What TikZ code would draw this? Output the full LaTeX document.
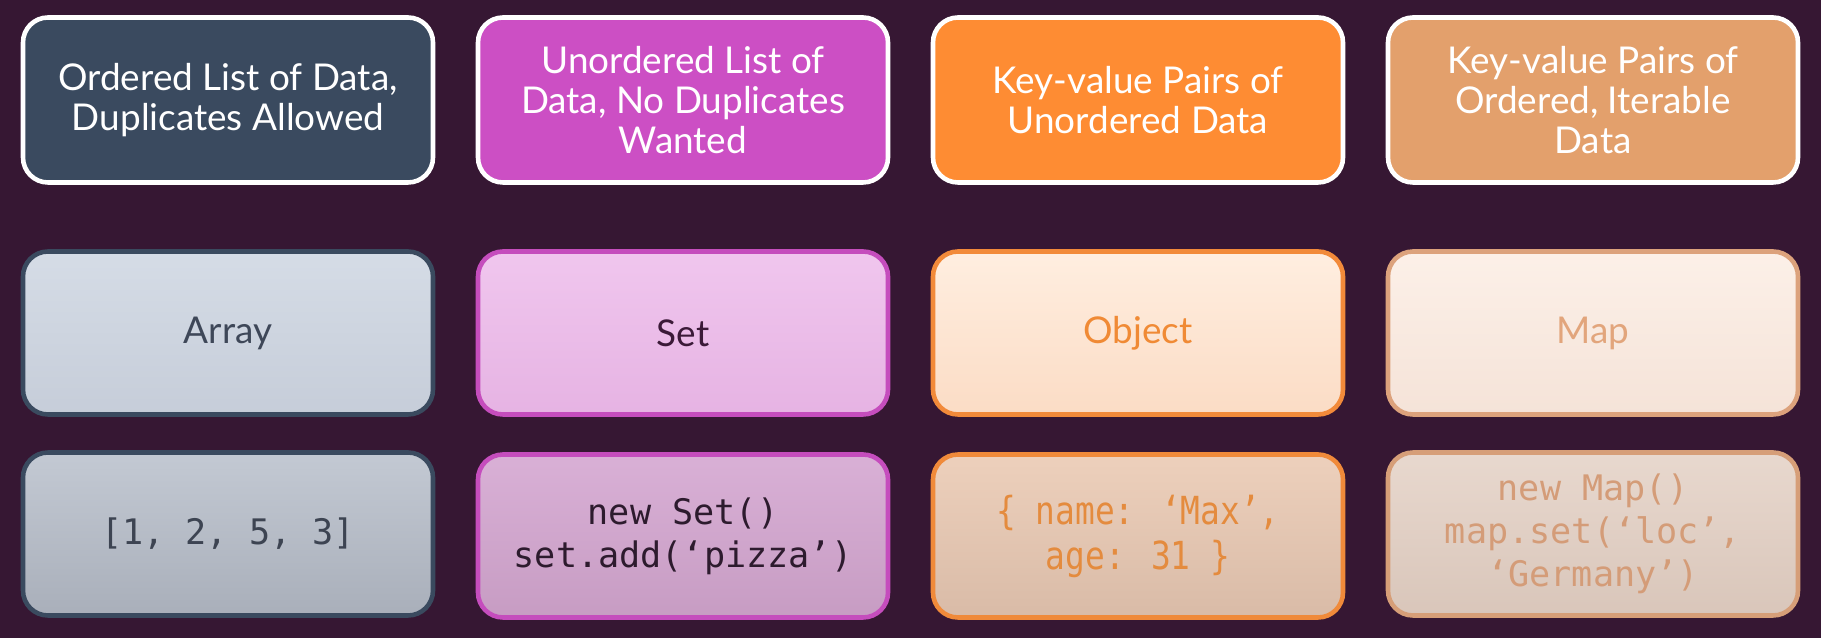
\documentclass[tikz,border=0pt]{standalone}
\usepackage{fontspec}
\setmainfont{Lato}
\setmonofont{DejaVu Sans Mono}
\newfontfamily\narrowmono[FakeStretch=0.85]{DejaVu Sans Mono}
\definecolor{bgcol}{HTML}{361733}
\definecolor{slatecol}{HTML}{3A4A5F}
\definecolor{magcol}{HTML}{CC4FC4}
\definecolor{orcol}{HTML}{FE8C33}
\definecolor{tancol}{HTML}{E3A06C}
\tikzset{
  box/.style={rounded corners=0.25cm, minimum width=4.1cm, minimum height=1.63cm,
    align=center, line width=1.3pt},
  head/.style={box, draw=white, text=white, minimum height=1.65cm,
    font=\fontsize{10.5}{11.3}\selectfont},
  kind/.style={box, font=\fontsize{10.5}{11.5}\selectfont},
  code/.style={box, font=\ttfamily\fontsize{10}{12.2}\selectfont},
}
\begin{document}
\begin{tikzpicture}
  \path[fill=bgcol,use as bounding box] (0,0) rectangle (18.21,6.38);
  % descriptions
  \path (2.28,5.38) node[head,fill=slatecol] (dArr) {Ordered List of Data,\\Duplicates Allowed};
  \path (6.83,5.38) node[head,fill=magcol] (dSet) {Unordered List of\\Data, No Duplicates\\Wanted};
  \path (11.38,5.38) node[head,fill=orcol] (dObj) {Key-value Pairs of\\Unordered Data};
  \path (15.93,5.38) node[head,fill=tancol] (dMap) {Key-value Pairs of\\Ordered, Iterable\\Data};
  % names
  \path (2.28,3.05) node[kind,draw=slatecol,top color={rgb,255:red,213;green,220;blue,230},
    bottom color={rgb,255:red,198;green,205;blue,217},text={rgb,255:red,62;green,71;blue,88}] (nArr) {Array};
  \path (6.83,3.05) node[kind,draw={rgb,255:red,197;green,77;blue,189},top color={rgb,255:red,240;green,198;blue,238},
    bottom color={rgb,255:red,230;green,179;blue,227},text={rgb,255:red,59;green,26;blue,56}] (nSet) {Set};
  \path (11.38,3.05) node[kind,draw={rgb,255:red,242;green,138;blue,58},top color={rgb,255:red,255;green,238;blue,224},
    bottom color={rgb,255:red,251;green,220;blue,197},text={rgb,255:red,240;green,138;blue,53}] (nObj) {Object};
  \path (15.93,3.05) node[kind,draw={rgb,255:red,220;green,162;blue,124},top color={rgb,255:red,252;green,240;blue,232},
    bottom color={rgb,255:red,245;green,227;blue,216},text={rgb,255:red,226;green,165;blue,124}] (nMap) {Map};
  % examples
  \path (2.28,1.04) node[code,draw=slatecol,top color={rgb,255:red,195;green,201;blue,211},
    bottom color={rgb,255:red,169;green,175;blue,186},text={rgb,255:red,61;green,68;blue,82}] (eArr) {[1, 2, 5, 3]};
  \path (6.83,1.02) node[code,draw={rgb,255:red,197;green,77;blue,189},top color={rgb,255:red,217;green,176;blue,214},
    bottom color={rgb,255:red,199;green,156;blue,195},text={rgb,255:red,45;green,27;blue,46}] (eSet) {new Set()\\set.add(‘pizza’)};
  \path (11.38,1.02) node[code,font=\narrowmono\fontsize{11}{12.8}\selectfont,draw={rgb,255:red,240;green,138;blue,58},
    top color={rgb,255:red,237;green,208;blue,188},bottom color={rgb,255:red,217;green,187;blue,167},
    text={rgb,255:red,228;green,139;blue,62}] (eObj) {\{ name: ‘Max’,\\age: 31 \}};
  \path (15.93,1.04) node[code,draw={rgb,255:red,214;green,158;blue,120},top color={rgb,255:red,232;green,216;blue,206},
    bottom color={rgb,255:red,217;green,198;blue,186},text={rgb,255:red,212;green,156;blue,120}] (eMap) {new Map()\\map.set(‘loc’,\\‘Germany’)};
\end{tikzpicture}
\end{document}
